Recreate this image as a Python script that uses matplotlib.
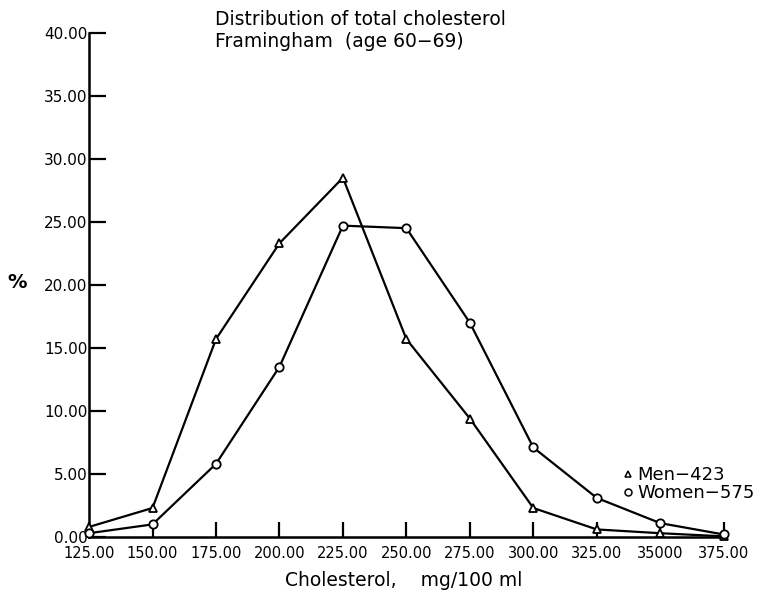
import matplotlib
matplotlib.use("Agg")
import matplotlib.pyplot as plt
from matplotlib.lines import Line2D

# cholesterol classes (mg/100 ml) and percent of each group
chol = [125, 150, 175, 200, 225, 250, 275, 300, 325, 350, 375]
men = [0.8, 2.3, 15.7, 23.3, 28.5, 15.7, 9.4, 2.3, 0.6, 0.3, 0.05]
women = [0.3, 1.0, 5.8, 13.5, 24.7, 24.5, 17.0, 7.1, 3.1, 1.1, 0.2]
x_labels = ["125.00", "150.00", "175.00", "200.00", "225.00", "250.00",
            "275.00", "300.00", "325.00", "35000", "375.00"]
y_ticks = [0, 5, 10, 15, 20, 25, 30, 35, 40]
y_labels = ["0.00", "5.00", "10.00", "15.00", "20.00", "25.00", "30.00", "35.00", "40.00"]

plt.rcParams['font.family'] = ['DejaVu Sans']

fig = plt.figure(figsize=(7.61, 5.96), dpi=100)
ax = fig.add_axes([0.117, 0.099, 0.834, 0.846])

ax.plot(chol, men, color='black', lw=1.6, marker='^', ms=6,
        mfc='white', mec='black', mew=1.3, clip_on=False, zorder=3)
ax.plot(chol, women, color='black', lw=1.6, marker='o', ms=6,
        mfc='white', mec='black', mew=1.3, clip_on=False, zorder=3)

ax.set_xlim(125, 375)
ax.set_ylim(0, 40)
ax.spines['top'].set_visible(False)
ax.spines['right'].set_visible(False)
ax.spines['left'].set_linewidth(1.8)
ax.spines['bottom'].set_linewidth(1.8)

ax.set_xticks(chol)
ax.set_xticklabels(x_labels)
ax.set_yticks(y_ticks)
ax.set_yticklabels(y_labels)
ax.tick_params(axis='x', direction='in', length=11, width=1.6,
               labelsize=10.5, pad=6.5)
ax.tick_params(axis='y', direction='in', length=12.5, width=1.6,
               labelsize=11, pad=1)

ax.text(-0.113, 0.504, '%', transform=ax.transAxes, fontsize=14,
        fontweight='bold', ha='center', va='center')
fig.text(0.374, 0.017, 'Cholesterol,    mg/100 ml', fontsize=13.5, ha='left')

fig.text(0.282, 0.968, 'Distribution of total cholesterol', fontsize=13.5,
         ha='left', va='center')
fig.text(0.282, 0.930, 'Framingham  (age 60\u221269)', fontsize=13.5,
         ha='left', va='center')

handles = [
    Line2D([], [], ls='none', marker='^', ms=5, mfc='white', mec='black', mew=1.1),
    Line2D([], [], ls='none', marker='o', ms=5, mfc='white', mec='black', mew=1.1),
]
ax.legend(handles, ['Men\u2212423', 'Women\u2212575'], frameon=False,
          loc='upper left', bbox_to_anchor=(0.826, 0.158),
          handlelength=0.6, handletextpad=0.25, labelspacing=0.0,
          borderpad=0, fontsize=13)

fig.savefig('out.png', dpi=100)
